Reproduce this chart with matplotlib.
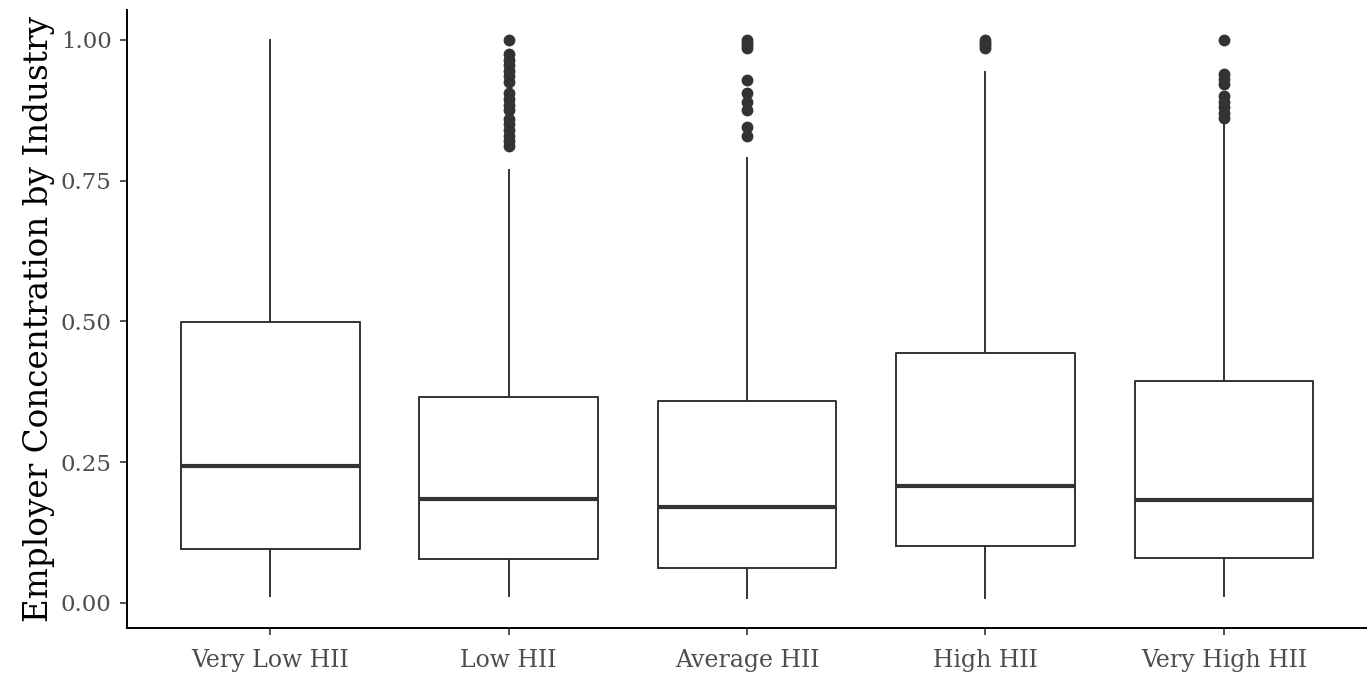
import matplotlib
matplotlib.use("Agg")
import matplotlib.pyplot as plt

# box statistics
groups = ["Very Low HII", "Low HII", "Average HII", "High HII", "Very High HII"]
whislo = [0.012, 0.012, 0.009, 0.009, 0.012]
q1 = [0.096, 0.078, 0.062, 0.101, 0.080]
med = [0.243, 0.185, 0.170, 0.208, 0.183]
q3 = [0.499, 0.366, 0.359, 0.444, 0.394]
whishi = [1.000, 0.769, 0.790, 0.943, 0.855]
fliers = [
    [],
    [1.0, 0.975, 0.965, 0.955, 0.945, 0.935, 0.925, 0.905, 0.895, 0.885, 0.875,
     0.86, 0.85, 0.84, 0.83, 0.82, 0.812],
    [1.0, 0.995, 0.99, 0.985, 0.928, 0.905, 0.89, 0.875, 0.845, 0.83],
    [1.0, 0.995, 0.99, 0.985],
    [1.0, 0.94, 0.93, 0.922, 0.90, 0.89, 0.88, 0.87, 0.862],
]

stats = []
for i, g in enumerate(groups):
    stats.append(dict(label=g, whislo=whislo[i], q1=q1[i], med=med[i],
                      q3=q3[i], whishi=whishi[i], fliers=fliers[i]))

plt.rcParams['font.family'] = ['DejaVu Serif']

fig = plt.figure(figsize=(13.67, 6.79), dpi=100)
ax = fig.add_axes([127 / 1367, 51 / 679, 1240 / 1367, 618 / 679])

c = "#333333"
ax.bxp(stats, positions=range(1, 6), widths=0.75, showcaps=False,
       boxprops=dict(color=c, linewidth=1.4),
       whiskerprops=dict(color=c, linewidth=1.4),
       medianprops=dict(color=c, linewidth=3),
       flierprops=dict(marker='o', markersize=7.5, markerfacecolor=c,
                       markeredgecolor=c, linestyle='none'))

ax.set_xlim(0.4, 5.6)
ax.set_ylim(-0.0445, 1.053)
ax.set_yticks([0, 0.25, 0.5, 0.75, 1.0])
ax.set_yticklabels(["0.00", "0.25", "0.50", "0.75", "1.00"])
ax.set_xticks(range(1, 6))
ax.set_xticklabels(groups)

for s in ["top", "right"]:
    ax.spines[s].set_visible(False)
for s in ["left", "bottom"]:
    ax.spines[s].set_linewidth(1.4)
    ax.spines[s].set_color("black")

ax.tick_params(axis="both", length=5, width=1.2, color="#333333",
               labelcolor="#4D4D4D", labelsize=16.5, pad=6)
ax.tick_params(axis="x", labelsize=17, pad=10)
ax.set_ylabel("Employer Concentration by Industry", fontsize=23.5, color="black",
              labelpad=4)

fig.savefig("out.png", dpi=100)
